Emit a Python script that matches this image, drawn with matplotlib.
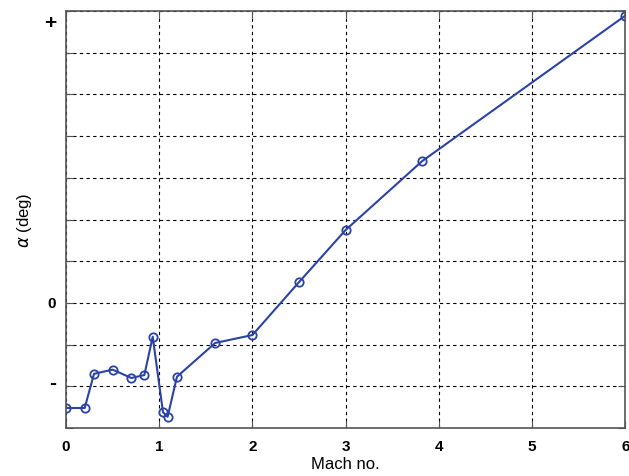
import matplotlib
matplotlib.use('Agg')
import matplotlib.pyplot as plt

# Mach number vs angle of attack (arbitrary units, 0 = zero deg)
mach = [0, 0.2, 0.3, 0.5, 0.7, 0.84, 0.93, 1.04, 1.09, 1.19, 1.6, 2.0, 2.5, 3.0, 3.82, 6.0]
alpha = [-2.52, -2.52, -1.70, -1.60, -1.80, -1.73, -0.81, -2.62, -2.73, -1.77,
         -0.96, -0.77, 0.50, 1.75, 3.40, 6.89]
xticks = [0, 1, 2, 3, 4, 5, 6]
ygrid = list(range(-3, 8))
ylabels = [('+', 6.72, 15), ('0', 0.0, 11), ('-', -1.92, 15)]

plt.rcParams['font.family'] = ['Liberation Sans', 'DejaVu Sans']
fig = plt.figure(figsize=(6.29, 4.77), dpi=100)
ax = fig.add_axes([0.105, 0.1006, 0.889, 0.874])
ax.plot(mach, alpha, '-o', color='#2b43a6', lw=1.5, ms=6, mfc='none', mew=1.3)
ax.set_xlim(0, 6); ax.set_ylim(-3, 7)
ax.set_xticks(xticks)
ax.set_xticklabels([str(t) for t in xticks], fontsize=11, fontweight='bold')
ax.set_yticks(ygrid); ax.set_yticklabels([])
ax.grid(True, ls=(0, (3, 3)), color='black', lw=0.8)
ax.tick_params(direction='in', length=5, top=True, right=True, color='#555555', pad=8)
for sp in ax.spines.values():
    sp.set_color('#555555'); sp.set_linewidth(1.2)
for lab, yv, fs in ylabels:
    ax.annotate(lab, (0, yv), xytext=(-7, 0), textcoords='offset points',
                fontsize=fs, fontweight='bold', ha='right', va='center',
                xycoords=ax.get_yaxis_transform())
ax.set_xlabel('Mach no.', fontsize=12, labelpad=2)
ax.set_ylabel(r'$\alpha$ (deg)', fontsize=12)
ax.yaxis.set_label_coords(-0.058, 0.5)
fig.savefig('out.png', dpi=100)
